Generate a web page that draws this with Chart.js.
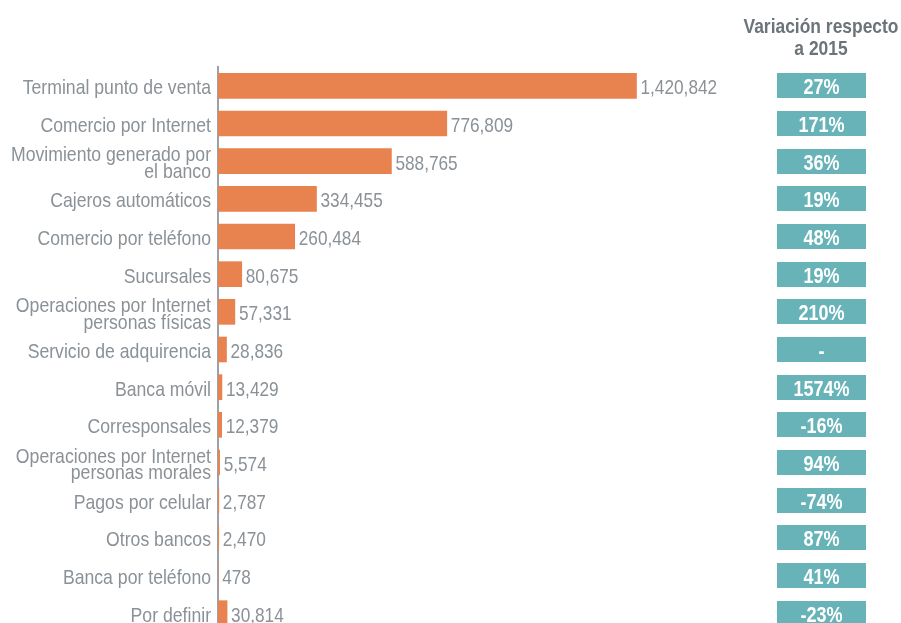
<!DOCTYPE html>
<html lang="es">
<head>
<meta charset="utf-8">
<title>Operaciones por canal</title>
<script src="https://cdn.jsdelivr.net/npm/chart.js@4/dist/chart.umd.min.js"></script>
<style>
  html, body { margin: 0; padding: 0; background: #ffffff; overflow: hidden; }
  canvas { display: block; }
</style>
</head>
<body>
<canvas id="chart" width="901" height="632"></canvas>
<script>
// Channels (multi-line labels are given as arrays)
const categories = [
  'Terminal punto de venta',
  'Comercio por Internet',
  ['Movimiento generado por', 'el banco'],
  'Cajeros automáticos',
  'Comercio por teléfono',
  'Sucursales',
  ['Operaciones por Internet', 'personas físicas'],
  'Servicio de adquirencia',
  'Banca móvil',
  'Corresponsales',
  ['Operaciones por Internet', 'personas morales'],
  'Pagos por celular',
  'Otros bancos',
  'Banca por teléfono',
  'Por definir'
];

// Number of operations per channel
const operations = [1420842, 776809, 588765, 334455, 260484, 80675, 57331, 28836, 13429, 12379, 5574, 2787, 2470, 478, 30814];

// Change with respect to 2015, in percent (null = not available)
const variation = [27, 171, 36, 19, 48, 19, 210, null, 1574, -16, 94, -74, 87, 41, -23];

const headerLines = ['Variación respecto', 'a 2015'];

const FONT = "'Liberation Sans', Arial, sans-serif";
const BAR = '#E8824F';
const TEAL = '#68B3B8';
const GREY = '#8A9197';
const HEAD = '#6B7479';

const fmt = new Intl.NumberFormat('en-US');

// Text drawn with a narrow (horizontally condensed) look
function narrowText(ctx, text, x, y, squeeze) {
  ctx.save();
  ctx.translate(x, y);
  ctx.scale(squeeze, 1);
  ctx.fillText(text, 0, 0);
  ctx.restore();
}

// Category labels, value labels, variation badges and column header
const extras = {
  id: 'extras',
  afterDatasetsDraw(chart) {
    const ctx = chart.ctx;
    const meta = chart.getDatasetMeta(0);
    const yScale = chart.scales.y;
    const labelRight = chart.chartArea.left - 7;
    ctx.save();
    ctx.textBaseline = 'alphabetic';

    // category labels
    ctx.font = '21px ' + FONT;
    ctx.fillStyle = GREY;
    ctx.textAlign = 'right';
    chart.data.labels.forEach((lab, i) => {
      const y = yScale.getPixelForValue(i);
      const lines = Array.isArray(lab) ? lab : [lab];
      lines.forEach((line, k) => {
        const off = (k - (lines.length - 1) / 2) * 16.8;
        narrowText(ctx, line, labelRight, y + 8.5 + off, 0.84);
      });
    });

    // values after each bar
    ctx.textAlign = 'left';
    meta.data.forEach((bar, i) => {
      narrowText(ctx, fmt.format(operations[i]), bar.x + 4, bar.y + 8.5, 0.82);
    });

    // variation badges
    const bx = 777, bw = 89, bh = 25;
    variation.forEach((v, i) => {
      const y = yScale.getPixelForValue(i);
      ctx.fillStyle = TEAL;
      ctx.fillRect(bx, Math.round(y - bh / 2), bw, bh);
      ctx.fillStyle = '#ffffff';
      ctx.font = 'bold 22px ' + FONT;
      ctx.textAlign = 'center';
      narrowText(ctx, v === null ? '-' : v + '%', bx + bw / 2, y + 8.5, 0.82);
    });

    // column header
    ctx.font = 'bold 21px ' + FONT;
    ctx.fillStyle = HEAD;
    ctx.textAlign = 'center';
    narrowText(ctx, headerLines[0], 821, 33, 0.83);
    narrowText(ctx, headerLines[1], 821, 55, 0.83);
    ctx.restore();
  }
};

new Chart(document.getElementById('chart'), {
  type: 'bar',
  data: {
    labels: categories,
    datasets: [{
      data: operations,
      backgroundColor: BAR,
      borderWidth: 0,
      barThickness: 25
    }]
  },
  options: {
    indexAxis: 'y',
    responsive: false,
    animation: false,
    layout: { padding: { top: 67, right: 35, bottom: 0, left: 0 } },
    plugins: {
      legend: { display: false },
      tooltip: { enabled: false }
    },
    scales: {
      x: {
        display: false,
        min: 0,
        max: 2200000
      },
      y: {
        grid: { display: false },
        border: { display: true, color: '#9BA1A6', width: 2 },
        ticks: { display: false },
        afterFit(scale) { scale.width = 218; }
      }
    }
  },
  plugins: [extras]
});
</script>
</body>
</html>
